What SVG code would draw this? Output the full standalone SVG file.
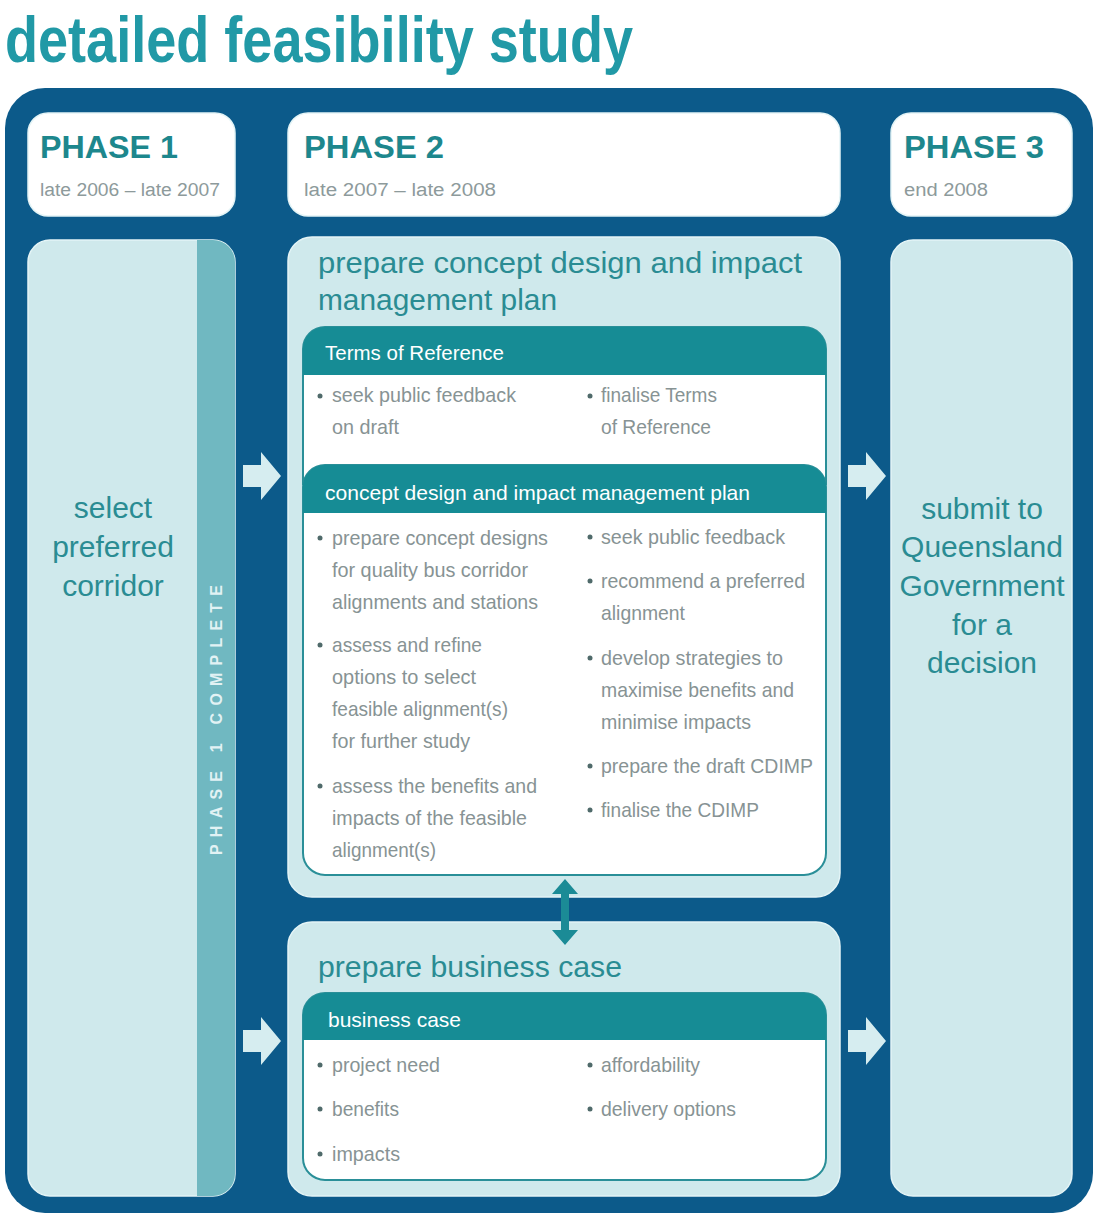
<svg xmlns="http://www.w3.org/2000/svg" width="1096" height="1216" viewBox="0 0 1096 1216">
  <style>
    .title { font-family: "Liberation Sans", Arial, sans-serif; font-weight: bold; font-size: 64px; fill: #2199a6; }
    .phase { font-family: "Liberation Sans", Arial, sans-serif; font-weight: bold; font-size: 32px; fill: #1d878d; }
    .date { font-family: "Liberation Sans", Arial, sans-serif; font-size: 18px; fill: #8d9a9b; }
    .big { font-family: "Liberation Sans", Arial, sans-serif; font-size: 30px; fill: #2a8c93; }
    .hdr { font-family: "Liberation Sans", Arial, sans-serif; font-size: 21px; fill: #ffffff; }
    .item { font-family: "Liberation Sans", Arial, sans-serif; font-size: 21px; fill: #879394; }
    .dot { fill: #4f6a6a; }
    .strip-text { font-family: "Liberation Sans", Arial, sans-serif; font-weight: bold; font-size: 16px; fill: #e2f2f4; }
    .panel { fill: #cfe9ec; stroke: #e4f4f6; stroke-width: 1.5; }
    .head-box { fill: #ffffff; stroke: #e4f4f6; stroke-width: 1.5; }
    .card { fill: #ffffff; stroke: #2a8f98; stroke-width: 2; }
    .card-head { fill: #168c95; }
    .flow { fill: #d6edf0; }
  </style>

  <!-- heading -->
  <text class="title" x="5" y="62" textLength="628" lengthAdjust="spacingAndGlyphs">detailed feasibility study</text>

  <!-- dark frame -->
  <rect x="5" y="88" width="1088" height="1125" rx="40" fill="#0c5a8a"/>

  <!-- phase headers -->
  <g id="phase1-header">
    <rect class="head-box" x="28" y="113" width="207" height="103" rx="20"/>
    <text class="phase" x="40" y="158" textLength="138" lengthAdjust="spacingAndGlyphs">PHASE 1</text>
    <text class="date" x="40" y="196" textLength="180" lengthAdjust="spacingAndGlyphs">late 2006 – late 2007</text>
  </g>
  <g id="phase2-header">
    <rect class="head-box" x="288" y="113" width="552" height="103" rx="20"/>
    <text class="phase" x="304" y="158" textLength="140" lengthAdjust="spacingAndGlyphs">PHASE 2</text>
    <text class="date" x="304" y="196" textLength="192" lengthAdjust="spacingAndGlyphs">late 2007 – late 2008</text>
  </g>
  <g id="phase3-header">
    <rect class="head-box" x="891" y="113" width="181" height="103" rx="20"/>
    <text class="phase" x="904" y="158" textLength="140" lengthAdjust="spacingAndGlyphs">PHASE 3</text>
    <text class="date" x="904" y="196" textLength="84" lengthAdjust="spacingAndGlyphs">end 2008</text>
  </g>

  <!-- phase 1 column -->
  <g id="select-corridor">
    <rect class="panel" x="28" y="240" width="207" height="956" rx="22"/>
    <path d="M197 240 H213 A22 22 0 0 1 235 262 V1174 A22 22 0 0 1 213 1196 H197 Z" fill="#70b8c1"/>
    <text class="big" text-anchor="middle" x="113" y="518">select</text>
    <text class="big" text-anchor="middle" x="113" y="557">preferred</text>
    <text class="big" text-anchor="middle" x="113" y="596">corridor</text>
    <text class="strip-text" x="0" y="0" transform="translate(222 855) rotate(-90)" textLength="270" lengthAdjust="spacing">PHASE 1 COMPLETE</text>
  </g>

  <!-- phase 3 column -->
  <g id="submit-government">
    <rect class="panel" x="891" y="240" width="181" height="956" rx="22"/>
    <text class="big" text-anchor="middle" x="982" y="519">submit to</text>
    <text class="big" text-anchor="middle" x="982" y="557">Queensland</text>
    <text class="big" text-anchor="middle" x="982" y="596">Government</text>
    <text class="big" text-anchor="middle" x="982" y="635">for a</text>
    <text class="big" text-anchor="middle" x="982" y="673">decision</text>
  </g>

  <!-- phase 2 upper panel -->
  <g id="concept-design-plan">
    <rect class="panel" x="288" y="237" width="552" height="660" rx="24"/>
    <text class="big" x="318" y="273" textLength="484" lengthAdjust="spacingAndGlyphs">prepare concept design and impact</text>
    <text class="big" x="318" y="310" textLength="239" lengthAdjust="spacingAndGlyphs">management plan</text>
  </g>

  <g id="terms-of-reference">
    <path class="card" d="M303 485 V349 A22 22 0 0 1 325 327 H804 A22 22 0 0 1 826 349 V485"/>
    <path class="card-head" d="M303 375 V349 A22 22 0 0 1 325 327 H804 A22 22 0 0 1 826 349 V375 Z"/>
    <text class="hdr" x="325" y="360" textLength="179" lengthAdjust="spacingAndGlyphs">Terms of Reference</text>
    <circle class="dot" cx="320" cy="396" r="2.5"/>
    <text class="item" x="332" y="402" textLength="184" lengthAdjust="spacingAndGlyphs">seek public feedback</text>
    <text class="item" x="332" y="434" textLength="67" lengthAdjust="spacingAndGlyphs">on draft</text>
    <circle class="dot" cx="590" cy="396" r="2.5"/>
    <text class="item" x="601" y="402" textLength="116" lengthAdjust="spacingAndGlyphs">finalise Terms</text>
    <text class="item" x="601" y="434" textLength="110" lengthAdjust="spacingAndGlyphs">of Reference</text>
  </g>

  <g id="concept-design-card">
    <rect class="card" x="303" y="465" width="523" height="410" rx="22"/>
    <path class="card-head" d="M303 513 V487 A22 22 0 0 1 325 465 H804 A22 22 0 0 1 826 487 V513 Z"/>
    <text class="hdr" x="325" y="500" textLength="425" lengthAdjust="spacingAndGlyphs">concept design and impact management plan</text>
    <!-- left column -->
    <circle class="dot" cx="320" cy="538" r="2.5"/>
    <text class="item" x="332" y="545" textLength="216" lengthAdjust="spacingAndGlyphs">prepare concept designs</text>
    <text class="item" x="332" y="577" textLength="196" lengthAdjust="spacingAndGlyphs">for quality bus corridor</text>
    <text class="item" x="332" y="609" textLength="206" lengthAdjust="spacingAndGlyphs">alignments and stations</text>
    <circle class="dot" cx="320" cy="645" r="2.5"/>
    <text class="item" x="332" y="652" textLength="150" lengthAdjust="spacingAndGlyphs">assess and refine</text>
    <text class="item" x="332" y="684" textLength="144" lengthAdjust="spacingAndGlyphs">options to select</text>
    <text class="item" x="332" y="716" textLength="176" lengthAdjust="spacingAndGlyphs">feasible alignment(s)</text>
    <text class="item" x="332" y="748" textLength="138" lengthAdjust="spacingAndGlyphs">for further study</text>
    <circle class="dot" cx="320" cy="786" r="2.5"/>
    <text class="item" x="332" y="793" textLength="205" lengthAdjust="spacingAndGlyphs">assess the benefits and</text>
    <text class="item" x="332" y="825" textLength="195" lengthAdjust="spacingAndGlyphs">impacts of the feasible</text>
    <text class="item" x="332" y="857" textLength="104" lengthAdjust="spacingAndGlyphs">alignment(s)</text>
    <!-- right column -->
    <circle class="dot" cx="590" cy="537" r="2.5"/>
    <text class="item" x="601" y="544" textLength="184" lengthAdjust="spacingAndGlyphs">seek public feedback</text>
    <circle class="dot" cx="590" cy="581" r="2.5"/>
    <text class="item" x="601" y="588" textLength="204" lengthAdjust="spacingAndGlyphs">recommend a preferred</text>
    <text class="item" x="601" y="620" textLength="84" lengthAdjust="spacingAndGlyphs">alignment</text>
    <circle class="dot" cx="590" cy="658" r="2.5"/>
    <text class="item" x="601" y="665" textLength="182" lengthAdjust="spacingAndGlyphs">develop strategies to</text>
    <text class="item" x="601" y="697" textLength="193" lengthAdjust="spacingAndGlyphs">maximise benefits and</text>
    <text class="item" x="601" y="729" textLength="150" lengthAdjust="spacingAndGlyphs">minimise impacts</text>
    <circle class="dot" cx="590" cy="766" r="2.5"/>
    <text class="item" x="601" y="773" textLength="212" lengthAdjust="spacingAndGlyphs">prepare the draft CDIMP</text>
    <circle class="dot" cx="590" cy="810" r="2.5"/>
    <text class="item" x="601" y="817" textLength="158" lengthAdjust="spacingAndGlyphs">finalise the CDIMP</text>
  </g>

  <!-- phase 2 lower panel -->
  <g id="business-case-panel">
    <rect class="panel" x="288" y="922" width="552" height="274" rx="24"/>
    <text class="big" x="318" y="977" textLength="304" lengthAdjust="spacingAndGlyphs">prepare business case</text>
  </g>

  <g id="business-case-card">
    <rect class="card" x="303" y="993" width="523" height="187" rx="22"/>
    <path class="card-head" d="M303 1040 V1015 A22 22 0 0 1 325 993 H804 A22 22 0 0 1 826 1015 V1040 Z"/>
    <text class="hdr" x="328" y="1027" textLength="133" lengthAdjust="spacingAndGlyphs">business case</text>
    <circle class="dot" cx="320" cy="1065" r="2.5"/>
    <text class="item" x="332" y="1072" textLength="108" lengthAdjust="spacingAndGlyphs">project need</text>
    <circle class="dot" cx="320" cy="1109" r="2.5"/>
    <text class="item" x="332" y="1116" textLength="67" lengthAdjust="spacingAndGlyphs">benefits</text>
    <circle class="dot" cx="320" cy="1154" r="2.5"/>
    <text class="item" x="332" y="1161" textLength="68" lengthAdjust="spacingAndGlyphs">impacts</text>
    <circle class="dot" cx="590" cy="1065" r="2.5"/>
    <text class="item" x="601" y="1072" textLength="99" lengthAdjust="spacingAndGlyphs">affordability</text>
    <circle class="dot" cx="590" cy="1109" r="2.5"/>
    <text class="item" x="601" y="1116" textLength="135" lengthAdjust="spacingAndGlyphs">delivery options</text>
  </g>

  <!-- connectors -->
  <g id="connectors">
    <path class="flow" d="M243 465 H261 V452 L281 476 L261 500 V487 H243 Z"/>
    <path class="flow" d="M243 1030 H261 V1017 L281 1041 L261 1065 V1052 H243 Z"/>
    <path class="flow" d="M848 465 H866 V452 L886 476 L866 500 V487 H848 Z"/>
    <path class="flow" d="M848 1030 H866 V1017 L886 1041 L866 1065 V1052 H848 Z"/>
    <path fill="#1b8b96" d="M565 879 L578 894 H569 V930 H578 L565 945 L552 930 H561 V894 H552 Z"/>
  </g>
</svg>
